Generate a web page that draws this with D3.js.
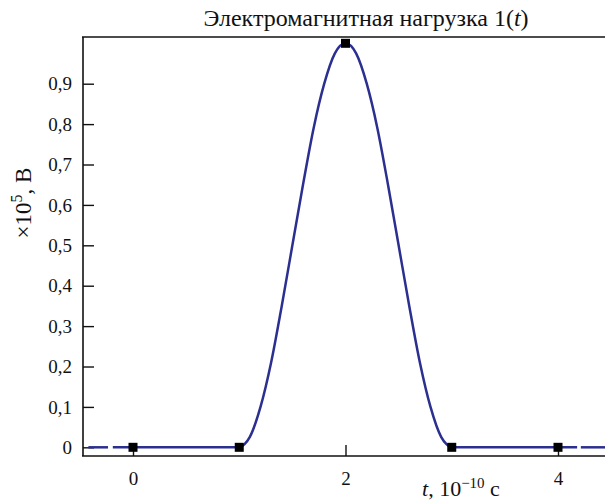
<!DOCTYPE html>
<head>
  <meta charset="utf-8">
  <script src="https://d3js.org/d3.v7.min.js"></script>
</head>
<body style="margin:0">
<svg width="605" height="500"></svg>

<script type="text/javascript">
// Values (t in 1e-10 s, amplitude in 1e5 V)
var tValues = [-0.19, 0, 1, 1.05, 1.1, 1.2, 1.3, 1.4, 1.5, 1.6, 1.7, 1.8, 1.9, 2,
               2.1, 2.2, 2.3, 2.4, 2.5, 2.6, 2.7, 2.8, 2.9, 2.95, 3, 4, 4.18];
var loadValues = [0, 0, 0, 0.008, 0.026, 0.1, 0.21, 0.35, 0.5, 0.65, 0.79, 0.9, 0.975, 1,
                  0.975, 0.9, 0.79, 0.65, 0.5, 0.35, 0.21, 0.1, 0.026, 0.008, 0, 0, 0];
var markerT = [0, 1, 2, 3, 4];
var markerValues = [0, 0, 1, 0, 0];
var tailDashes = [[-0.42, -0.235], [4.215, 4.45]];   // dashed continuation at both ends
var xTicks = [0, 2, 4];
var yTicks = [0, 0.1, 0.2, 0.3, 0.4, 0.5, 0.6, 0.7, 0.8, 0.9];

var FONT = "Liberation Serif";
var LINE = "#2b2f8f";
var svg = d3.select("svg");

var x = d3.scaleLinear().domain([-0.4706, 4.4424]).range([83, 605]);
var y = d3.scaleLinear().domain([-0.0215, 1.0156]).range([456, 37]);

var fmt = function(d) { return d === 0 ? "0" : d3.format(".1f")(d).replace(".", ","); };

// y axis, ticks pointing inward
var yAxis = svg.append("g")
    .attr("transform", "translate(83,0)")
    .call(d3.axisLeft(y).tickValues(yTicks).tickFormat(fmt).tickSize(-11).tickPadding(11));
yAxis.select(".domain").remove();
yAxis.selectAll("line").attr("stroke", "#111").attr("stroke-width", 1.4);
yAxis.selectAll("text").attr("font-family", FONT).attr("font-size", 19).attr("fill", "#111");

// x axis
var xAxis = svg.append("g")
    .attr("transform", "translate(0,456)")
    .call(d3.axisBottom(x).tickValues(xTicks).tickFormat(d3.format("d")).tickSize(-11).tickPadding(16));
xAxis.select(".domain").remove();
xAxis.selectAll("line").attr("stroke", "#111").attr("stroke-width", 1.4);
xAxis.selectAll("text").attr("font-family", FONT).attr("font-size", 19).attr("fill", "#111");

// frame: left, bottom, top (open on the right)
[[83, 83, 37, 456], [82, 605, 456, 456], [82, 605, 37, 37]].forEach(function(s) {
  svg.append("line")
    .attr("x1", s[0]).attr("x2", s[1]).attr("y1", s[2]).attr("y2", s[3])
    .attr("stroke", "#111").attr("stroke-width", 1.6);
});

// the pulse
var line = d3.line()
    .x(function(d) { return x(d[0]); })
    .y(function(d) { return y(d[1]); })
    .curve(d3.curveMonotoneX);

svg.append("path")
    .attr("d", line(d3.zip(tValues, loadValues)))
    .attr("fill", "none").attr("stroke", LINE).attr("stroke-width", 2.5);

svg.selectAll(".tail")
  .data(tailDashes)
  .enter().append("line")
    .attr("x1", function(d) { return x(d[0]); })
    .attr("x2", function(d) { return x(d[1]); })
    .attr("y1", y(0))
    .attr("y2", y(0))
    .attr("stroke", LINE).attr("stroke-width", 2.5);

// square markers
svg.selectAll(".marker")
  .data(d3.zip(markerT, markerValues))
  .enter().append("rect")
    .attr("x", function(d) { return x(d[0]) - 4.5; })
    .attr("y", function(d) { return y(d[1]) - 4.5; })
    .attr("width", 9)
    .attr("height", 9)
    .attr("fill", "#000");

// title
var title = svg.append("text")
    .attr("x", 366).attr("y", 26)
    .attr("text-anchor", "middle")
    .attr("font-family", FONT).attr("font-size", 24).attr("fill", "#111");
title.append("tspan").text("Электромагнитная нагрузка 1(");
title.append("tspan").attr("font-style", "italic").text("t");
title.append("tspan").text(")");

// x label
var xl = svg.append("text")
    .attr("x", 422).attr("y", 496)
    .attr("font-family", FONT).attr("font-size", 22).attr("fill", "#111");
xl.append("tspan").attr("font-style", "italic").text("t");
xl.append("tspan").text(", 10");
xl.append("tspan").attr("font-size", 15).attr("dy", -8).text("−10");
xl.append("tspan").attr("dy", 8).text(" с");

// y label
var yl = svg.append("text")
    .attr("transform", "translate(31,203) rotate(-90)")
    .attr("text-anchor", "middle")
    .attr("font-family", FONT).attr("font-size", 23).attr("fill", "#111");
yl.append("tspan").text("×10");
yl.append("tspan").attr("font-size", 16).attr("dy", -9).text("5");
yl.append("tspan").attr("dy", 9).text(", В");
</script>

</body>
</html>
